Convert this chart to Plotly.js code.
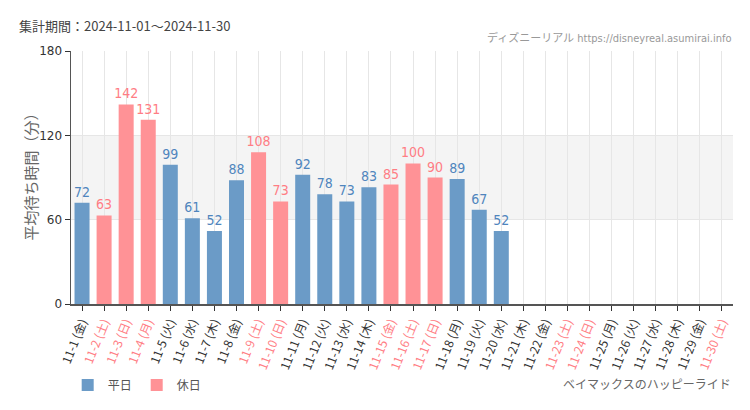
<!DOCTYPE html>
<html><head><meta charset="utf-8">
<script src="https://cdn.plot.ly/plotly-3.0.1.min.js"></script>
<style>body{margin:0;background:#fff}#c{width:750px;height:410px}</style>
</head><body><div id="c"></div>
<script>
const dates = ["11-1","11-2","11-3","11-4","11-5","11-6","11-7","11-8","11-9","11-10","11-11","11-12","11-13","11-14","11-15","11-16","11-17","11-18","11-19","11-20","11-21","11-22","11-23","11-24","11-25","11-26","11-27","11-28","11-29","11-30"];
const weekdays = ["金","土","日","月","火","水","木","金","土","日","月","火","水","木","金","土","日","月","火","水","木","金","土","日","月","火","水","木","金","土"];
const holiday = [0,1,1,1,0,0,0,0,1,1,0,0,0,0,1,1,1,0,0,0,0,0,1,1,0,0,0,0,0,1];
const waits = [72,63,142,131,99,61,52,88,108,73,92,78,73,83,85,100,90,89,67,52,null,null,null,null,null,null,null,null,null,null];
const yTicks = [0,60,120,180];

const BLUE="#6b9bc7", PINK="#ff9296", BLUE_T="#4f85bd", PINK_T="#ff7d84";
const numFont = "'DejaVu Sans Condensed','Liberation Sans Narrow',sans-serif";
const jp = "'Noto Sans CJK JP','Noto Sans',sans-serif";

const wkY = waits.map((v,i)=>holiday[i]?null:v);
const hoY = waits.map((v,i)=>holiday[i]?v:null);
const ticktext = dates.map((d,i)=>holiday[i]?`<span style="color:${PINK_T}">${d} (${weekdays[i]})</span>`:`${d} (${weekdays[i]})`);

const traces = [
 {type:'bar', name:'平日', x:dates, y:wkY, marker:{color:BLUE}, text:wkY.map(v=>v==null?'':String(v)), textposition:'outside', constraintext:'none', cliponaxis:false, textfont:{family:numFont,size:14,color:BLUE_T}, hoverinfo:'none'},
 {type:'bar', name:'休日', x:dates, y:hoY, marker:{color:PINK}, text:hoY.map(v=>v==null?'':String(v)), textposition:'outside', constraintext:'none', cliponaxis:false, textfont:{family:numFont,size:14,color:PINK_T}, hoverinfo:'none'}
];

const layout = {
 width:750, height:410,
 margin:{l:71,r:17,t:51,b:105},
 paper_bgcolor:'#fff', plot_bgcolor:'#fff',
 barmode:'overlay', bargap:0.32,
 font:{family:jp,size:12,color:'#333'},
 showlegend:true,
 legend:{orientation:'h', x:-0.005, xanchor:'left', y:-0.315, yanchor:'middle', font:{family:jp,size:12,color:'#555'}, itemwidth:30, traceorder:'normal'},
 xaxis:{type:'category', tickvals:dates, ticktext:ticktext, tickangle:-68, ticks:'outside', ticklen:5, tickcolor:'#333', showline:true, linecolor:'#555', linewidth:1.5, showgrid:true, gridcolor:'#e6e6e6', tickfont:{family:jp,size:12,color:'#333'}, range:[-0.5,29.5], fixedrange:true},
 yaxis:{range:[0,180], tickvals:yTicks, ticks:'outside', ticklen:5, tickcolor:'#333', showline:true, linecolor:'#555', linewidth:1.5, showgrid:true, gridcolor:'#e6e6e6', zeroline:false, tickfont:{family:"'DejaVu Sans',sans-serif",size:12,color:'#333'}},
 shapes:[{type:'rect', xref:'paper', x0:0, x1:1, yref:'y', y0:60, y1:120, fillcolor:'#f4f4f4', line:{width:0}, layer:'below'}],
 annotations:[
  {xref:'paper',yref:'paper',x:-0.062,y:0.52,xanchor:'center',yanchor:'middle',textangle:-90,showarrow:false,text:'平均待ち時間（分）',font:{family:jp,size:15,color:'#666'}},
  {xref:'paper',yref:'paper',x:-0.082,y:1.1,xanchor:'left',yanchor:'middle',showarrow:false,text:'集計期間：2024-11-01～2024-11-30',font:{family:jp,size:13,color:'#444'}},
  {xref:'paper',yref:'paper',x:1.0,y:1.052,xanchor:'right',yanchor:'middle',showarrow:false,text:'ディズニーリアル https://disneyreal.asumirai.info',font:{family:"'DejaVu Sans Condensed',"+jp,size:11,color:'#999'}},
  {xref:'paper',yref:'paper',x:1.0,y:-0.315,xanchor:'right',yanchor:'middle',showarrow:false,text:'ベイマックスのハッピーライド',font:{family:jp,size:12,color:'#666'}}
 ]
};
Plotly.newPlot('c', traces, layout, {displayModeBar:false, staticPlot:true});
</script></body></html>
